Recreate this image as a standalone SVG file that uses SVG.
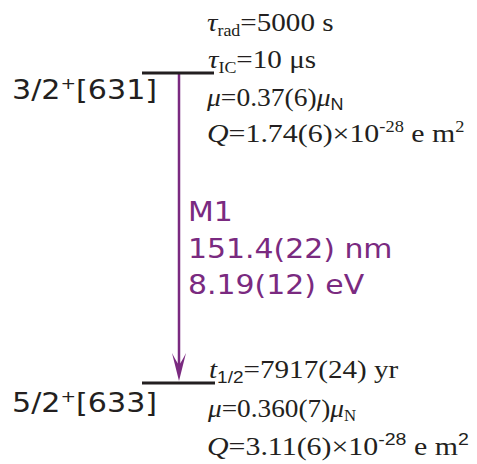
<svg xmlns="http://www.w3.org/2000/svg" width="477" height="464" viewBox="0 0 477 464">
<style>
.lvl{stroke:#231f20;stroke-width:3;fill:none}
.tr{stroke:#7a2a80;stroke-width:2.5;fill:none}
.ah{fill:#7a2a80}
.lab{font-family:"DejaVu Sans",Verdana,sans-serif;font-size:26px;fill:#231f20}
.pur{font-family:"DejaVu Sans",Verdana,sans-serif;font-size:26px;fill:#7a2a80}
.ser{font-family:"Liberation Serif","Times New Roman",serif;font-size:26px;fill:#231f20}
.it{font-style:italic}
.sub{font-size:16px}
.ss{font-family:"Liberation Sans",Arial,sans-serif;font-size:17px}
</style>
<rect width="477" height="464" fill="#fff"/>
<g id="connectors">
<line class="tr" x1="179" y1="73" x2="179" y2="368"/>
<path class="ah" d="M179,381 L172,353 Q176,361 179,365 Q182,361 186,353 Z"/>
</g>
<g id="upper-level">
<line class="lvl" x1="142" y1="73" x2="214" y2="73"/>
<g transform="translate(12,99) scale(1.16,1)"><text class="lab">3/2<tspan font-size="16" dy="-10">+</tspan><tspan dy="10">[631]</tspan></text></g>
<g transform="translate(207,31) scale(1.12,1)"><text class="ser"><tspan class="it">τ</tspan><tspan class="sub" dy="5">rad</tspan><tspan dy="-5">=5000 s</tspan></text></g>
<g transform="translate(208,68) scale(1.12,1)"><text class="ser"><tspan class="it">τ</tspan><tspan class="sub" dy="5">IC</tspan><tspan dy="-5">=10 μs</tspan></text></g>
<g transform="translate(207,106) scale(1.06,1)"><text class="ser"><tspan class="it">μ</tspan>=0.37(6)<tspan class="it">μ</tspan><tspan class="ss" dy="4">N</tspan></text></g>
<g transform="translate(207,142) scale(1.15,1)"><text class="ser"><tspan class="it">Q</tspan>=1.74(6)×10<tspan class="sub" dy="-10">-28</tspan><tspan dy="10"> e m</tspan><tspan class="sub" dy="-10">2</tspan></text></g>
</g>
<g id="transition-label">
<g transform="translate(188,221) scale(1.15,1)"><text class="pur">M1</text></g>
<g transform="translate(188,258) scale(1.15,1)"><text class="pur">151.4(22) nm</text></g>
<g transform="translate(188,294) scale(1.15,1)"><text class="pur">8.19(12) eV</text></g>
</g>
<g id="lower-level">
<line class="lvl" x1="142" y1="383" x2="215" y2="383"/>
<g transform="translate(12,412) scale(1.16,1)"><text class="lab">5/2<tspan font-size="16" dy="-10">+</tspan><tspan dy="10">[633]</tspan></text></g>
<g transform="translate(209,378) scale(1.12,1)"><text class="ser"><tspan class="it">t</tspan><tspan class="ss" dy="5">1/2</tspan><tspan dy="-5">=7917(24) yr</tspan></text></g>
<g transform="translate(208,417) scale(1.05,1)"><text class="ser"><tspan class="it">μ</tspan>=0.360(7)<tspan class="it">μ</tspan><tspan class="sub" dy="4">N</tspan></text></g>
<g transform="translate(207,455) scale(1.15,1)"><text class="ser"><tspan class="it">Q</tspan>=3.11(6)×10<tspan class="ss" dy="-10">-28</tspan><tspan dy="10"> e m</tspan><tspan class="ss" dy="-10">2</tspan></text></g>
</g>
</svg>
